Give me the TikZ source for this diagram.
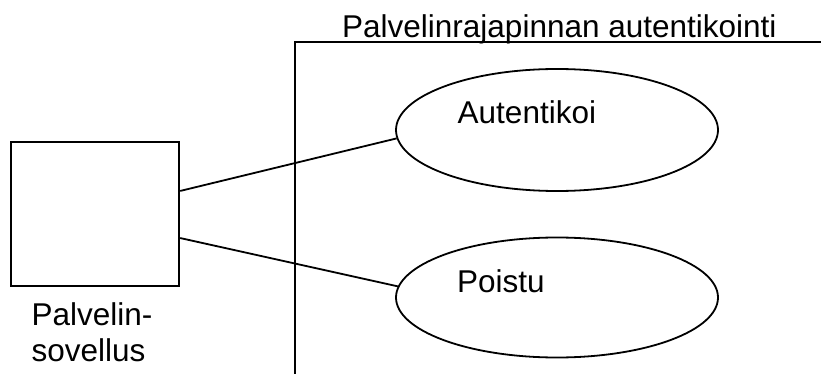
\documentclass[tikz,border=0pt]{standalone}
\usepackage{fontspec}
\setmainfont{Liberation Sans}
\usetikzlibrary{shapes.geometric}
\begin{document}
\begin{tikzpicture}[x=1pt,y=-1pt,
    thick line/.style={line width=1.8pt},
    usecase/.style={ellipse,draw,line width=1.8pt,minimum width=322pt,inner sep=0pt},
    actorbox/.style={rectangle,draw,line width=1.8pt,minimum width=168pt,minimum height=144pt,inner sep=0pt},
    label/.style={font=\fontsize{31.5}{36.7}\selectfont,inner sep=0pt,anchor=base west},
  ]
  \useasboundingbox (0,0) rectangle (821,374);

  % system boundary
  \coordinate (sysbottom) at (295,380);
  \coordinate (syscorner) at (295,41.7);
  \coordinate (sysright) at (830,41.7);
  \draw[thick line] (sysbottom) -- (syscorner) -- (sysright);
  \node[label] (systitle) at (342,37.3) {Palvelinrajapinnan autentikointi};

  % actor
  \node[actorbox] (app) at (95.3,213.7) {};
  \node[label] (applabel1) at (31.5,325.5) {Palvelin-};
  \node[label] (applabel2) at (31.5,361.7) {sovellus};

  % use cases
  \node[usecase,minimum height=122pt] (auth) at (557,130) {};
  \node[label] (authlabel) at (457.5,124) {Autentikoi};
  \node[usecase,minimum height=120pt] (quit) at (557,297.5) {};
  \node[label] (quitlabel) at (457,292.7) {Poistu};

  % associations
  \draw[thick line] (app.15.8) -- (auth.183.9);
  \draw[thick line] (app.-16) -- (quit.176.2);
\end{tikzpicture}
\end{document}
